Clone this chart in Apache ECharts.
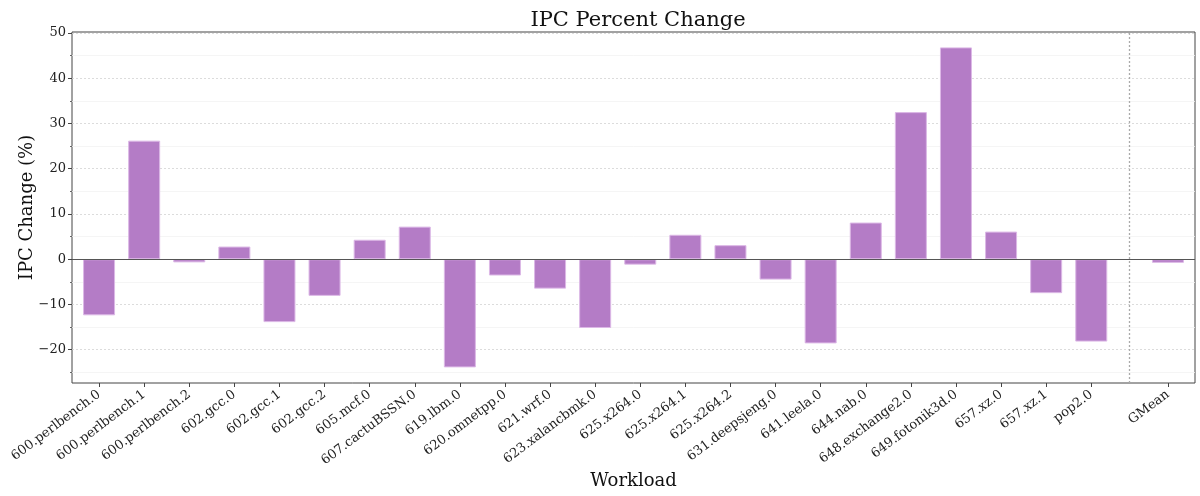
<!DOCTYPE html>
<html>
<head>
<meta charset="utf-8">
<script src="https://cdn.jsdelivr.net/npm/echarts@6/dist/echarts.min.js"></script>
<style>
  html, body { margin: 0; padding: 0; background: #fff; }
  #ipcChart { width: 1200px; height: 496px; }
</style>
</head>
<body>
<div id="ipcChart"></div>
<script>
// workloads and their IPC change (%)
const workloads = [
  '600.perlbench.0', '600.perlbench.1', '600.perlbench.2', '602.gcc.0', '602.gcc.1',
  '602.gcc.2', '605.mcf.0', '607.cactuBSSN.0', '619.lbm.0', '620.omnetpp.0',
  '621.wrf.0', '623.xalancbmk.0', '625.x264.0', '625.x264.1', '625.x264.2',
  '631.deepsjeng.0', '641.leela.0', '644.nab.0', '648.exchange2.0', '649.fotonik3d.0',
  '657.xz.0', '657.xz.1', 'pop2.0'
];
const ipcChange = [
  -12.4, 26.2, -0.7, 2.8, -13.9,
  -8.1, 4.3, 7.2, -23.9, -3.6,
  -6.5, -15.2, -1.2, 5.4, 3.1,
  -4.5, -18.6, 8.1, 32.5, 46.8,
  6.1, -7.5, -18.2
];
const gmeanLabel = 'GMean';
const gmeanValue = -0.8;

// y tick labels (major) and minor ticks
const yMajorTicks = [-20, -10, 0, 10, 20, 30, 40, 50];
const yMinorTicks = [-25, -15, -5, 5, 15, 25, 35, 45];

// x positions: workloads at 0..22, GMean set apart after a separator
const gmeanPos = 23.7;
const separatorPos = 22.85;

const fontFam = 'DejaVu Serif';
const barColor = '#b47cc6';

const xPositions = workloads.map((w, i) => i).concat([gmeanPos]);
const xNames = workloads.concat([gmeanLabel]);
const barData = ipcChange.map((v, i) => [i, v]).concat([[gmeanPos, gmeanValue]]);

function nameAt(val) {
  for (let i = 0; i < xPositions.length; i++) {
    if (Math.abs(xPositions[i] - val) < 1e-6) return xNames[i];
  }
  return '';
}

const myChart = echarts.init(document.getElementById('ipcChart'));
const chartOption = {
  animation: false,
  backgroundColor: '#fff',
  title: {
    text: 'IPC Percent Change',
    left: 633,
    textAlign: 'center',
    top: 5,
    textStyle: {
      fontFamily: fontFam,
      fontWeight: 'normal',
      fontSize: 21,
      color: '#111'
    }
  },
  grid: {
    left: 72,
    right: 5,
    top: 32,
    bottom: 113,
    outerBoundsMode: 'none',
    containLabel: false,
    show: true,
    borderColor: '#444',
    borderWidth: 1,
    backgroundColor: 'transparent'
  },
  xAxis: {
    type: 'value',
    min: -0.6,
    max: 24.3,
    name: 'Workload',
    nameLocation: 'middle',
    nameGap: 89,
    nameMoveOverlap: false,
    nameTextStyle: { fontFamily: fontFam, fontSize: 18, color: '#111' },
    axisLine: { show: false, onZero: false },
    splitLine: { show: false },
    axisTick: {
      show: true,
      length: 4,
      customValues: xPositions,
      lineStyle: { color: '#444' }
    },
    axisLabel: {
      customValues: xPositions,
      rotate: 37,
      margin: 10,
      fontFamily: fontFam,
      fontSize: 13,
      color: '#222',
      formatter: (val) => nameAt(val)
    }
  },
  yAxis: [{
    type: 'value',
    min: -27.35,
    max: 50.2,
    name: 'IPC Change (%)',
    nameLocation: 'middle',
    nameGap: 36,
    nameMoveOverlap: false,
    nameTextStyle: { fontFamily: fontFam, fontSize: 18, color: '#111' },
    axisLine: { show: false, onZero: false },
    axisTick: {
      show: true,
      length: 4,
      customValues: yMajorTicks,
      lineStyle: { color: '#444' }
    },
    axisLabel: {
      customValues: yMajorTicks,
      margin: 6,
      fontFamily: fontFam,
      fontSize: 13,
      color: '#222',
      formatter: (v) => (v < 0 ? '\u2212' + Math.abs(v) : String(v))
    },
    splitLine: {
      show: true,
      lineStyle: { color: '#d4d4d4', type: [2, 2], width: 0.8 }
    }
  }, {
    type: 'value',
    min: -27.35,
    max: 50.2,
    position: 'left',
    offset: 0,
    axisLine: { show: false, onZero: false },
    axisTick: {
      show: true,
      length: 2,
      customValues: yMinorTicks,
      lineStyle: { color: '#666' }
    },
    axisLabel: { show: false, customValues: yMinorTicks },
    splitLine: {
      show: true,
      lineStyle: { color: '#f3f3f3', width: 0.8 }
    }
  }],
  series: [{
    name: 'IPC Change',
    type: 'bar',
    data: barData,
    barWidth: 32,
    itemStyle: {
      color: barColor,
      borderColor: '#dcb8e6',
      borderWidth: 1
    },
    markLine: {
      silent: true,
      symbol: 'none',
      label: { show: false },
      data: [
        { yAxis: 0, lineStyle: { color: '#555', width: 1.2, type: 'solid' } },
        { xAxis: separatorPos, lineStyle: { color: '#aaa', width: 1.3, type: [2, 2] } }
      ]
    }
  }]
};
myChart.setOption(chartOption);
</script>
</body>
</html>
